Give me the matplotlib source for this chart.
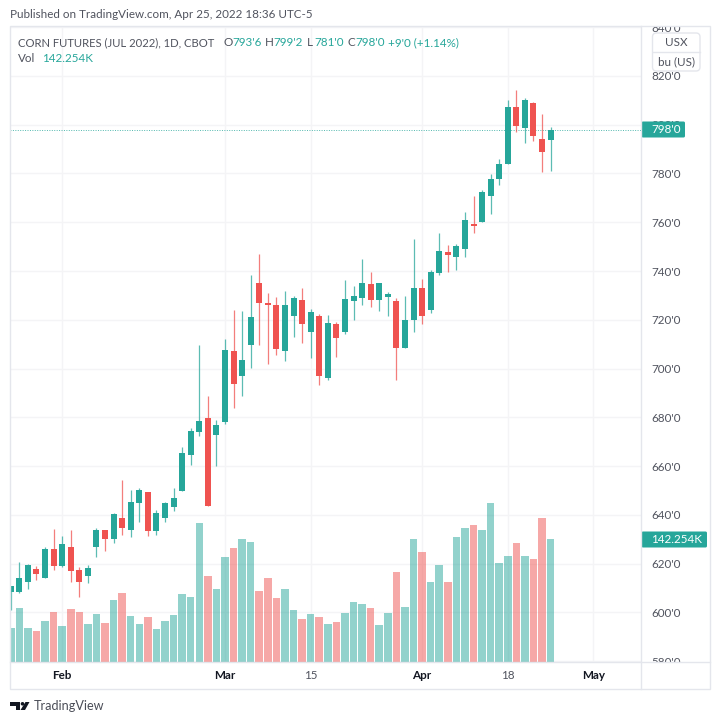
"""Corn futures daily candles with volume, styled like a TradingView snapshot."""
import matplotlib
matplotlib.use("Agg")
import matplotlib.pyplot as plt
import matplotlib.patches as mpatches
from matplotlib.transforms import Bbox, IdentityTransform, TransformedBbox

opens = [608.2, 608.2, 612.6, 617.7, 614.0, 626.0, 618.9, 627.0, 617.4, 614.8,
         626.9, 633.8, 630.3, 638.8, 634.0, 644.8, 649.4, 633.3, 638.9, 643.1,
         649.9, 664.7, 673.8, 679.8, 672.8, 678.3, 707.3, 696.8, 709.8, 734.9,
         726.7, 726.1, 707.2, 721.4, 728.1, 715.2, 721.7, 696.1, 718.1, 715.2,
         727.6, 728.9, 734.5, 728.1, 729.2, 727.6, 708.4, 719.8, 732.9, 723.9,
         739.2, 747.8, 745.6, 748.9, 759.2, 759.9, 770.9, 777.8, 783.8, 807.1,
         798.7, 808.7, 794.1, 793.75]
highs = [611.0, 620.7, 619.9, 619.2, 627.0, 634.2, 631.4, 633.8, 618.5, 619.6,
         634.5, 633.8, 640.9, 654.5, 650.4, 651.1, 649.6, 642.0, 645.2, 651.1,
         667.9, 675.7, 709.6, 688.6, 679.0, 712.0, 723.9, 723.6, 738.5, 746.9,
         731.1, 729.5, 731.7, 729.6, 732.9, 724.3, 722.5, 721.9, 718.9, 736.2,
         734.0, 744.9, 739.5, 734.9, 731.3, 729.1, 729.7, 753.0, 736.6, 740.3,
         755.6, 750.8, 751.1, 764.0, 770.8, 773.4, 779.7, 786.1, 810.1, 814.2,
         810.8, 809.5, 804.2, 799.25]
lows = [601.0, 608.1, 609.6, 613.3, 614.0, 617.4, 618.8, 612.3, 606.2, 611.9,
        622.9, 625.2, 628.4, 631.7, 631.1, 637.1, 631.4, 631.6, 637.0, 641.8,
        649.9, 660.6, 672.5, 643.7, 660.1, 677.3, 683.8, 688.7, 700.2, 709.6,
        701.7, 705.4, 703.2, 712.9, 710.3, 704.2, 693.2, 695.4, 704.6, 714.1,
        719.8, 726.2, 725.2, 723.6, 721.4, 695.5, 708.4, 715.0, 718.4, 722.9,
        738.4, 739.5, 740.4, 745.8, 755.6, 759.9, 763.4, 775.3, 783.8, 797.1,
        792.3, 793.4, 780.7, 781.0]
closes = [611.0, 614.1, 619.3, 615.8, 626.0, 619.1, 628.1, 617.1, 612.6, 618.4,
          634.0, 630.1, 640.4, 634.7, 645.2, 650.4, 633.6, 640.7, 644.9, 647.1,
          665.3, 674.6, 678.6, 643.7, 676.9, 707.7, 693.6, 703.5, 721.3, 726.9,
          726.1, 708.1, 726.2, 728.8, 718.2, 723.2, 696.8, 718.7, 712.4, 728.4,
          729.7, 734.9, 728.2, 734.9, 730.7, 708.4, 720.0, 732.9, 721.4, 739.5,
          748.1, 746.6, 750.4, 760.8, 758.5, 772.4, 777.9, 783.8, 807.1, 799.5,
          810.1, 795.3, 788.9, 798.0]
volumes = [39.5, 62.4, 38.8, 34.9, 46.9, 57.8, 41.5, 61.2, 57.8, 43.5,
           55.4, 44.2, 71.7, 79.8, 52.3, 43.5, 51.6, 38.0, 47.6, 54.3,
           78.7, 75.2, 160.8, 99.2, 84.5, 122.0, 132.1, 142.9, 139.4, 82.5,
           97.3, 73.7, 84.5, 59.7, 49.6, 55.1, 51.6, 43.5, 46.1, 56.9,
           69.7, 67.0, 62.4, 42.6, 56.9, 103.9, 63.6, 142.9, 127.5, 92.6,
           112.7, 92.6, 144.9, 155.7, 158.9, 153.0, 184.4, 114.7, 122.8, 137.6,
           122.8, 119.3, 167.0, 142.254]

time_ticks = [6, 25, 35, 48, 58, 68]
time_labels = ["Feb", "Mar", "15", "Apr", "18", "May"]
price_ticks = list(range(580, 841, 20))

UP = "#26a69a"
DOWN = "#ef5350"
GRID = "#f4f4f6"
BORDER = "#e4e6ec"
TEXT = "#50535e"
FS = 8.4
W, H = 720, 724

plt.rcParams["font.family"] = ["Lato", "DejaVu Sans"]


def fx(x):
    return x / W


def fy(y):
    return 1 - y / H


def round_box(x0, y0, x1, y1, radius, **kw):
    # rounded box given in picture pixels, y measured from the top
    return mpatches.FancyBboxPatch((x0, H - y1), x1 - x0, y1 - y0,
                                   boxstyle=f"round,pad=0,rounding_size={radius}",
                                   transform=IdentityTransform(), **kw)


fig = plt.figure(figsize=(W / 100, H / 100), dpi=100, facecolor="white")

ax = fig.add_axes([fx(10), fy(661.5), fx(631.3), 634.5 / H])
ax.set_xlim(-0.0875, 73.58)
ax.set_ylim(579.9, 840.05)
ax.grid(True, color=GRID, linewidth=1)
ax.set_axisbelow(True)
for s in ax.spines.values():
    s.set_visible(False)

# volume pane shares the same x positions, own scale
ax_v = ax.twinx()
ax_v.set_ylim(0, 737.3)
ax_v.patch.set_visible(False)
ax_v.yaxis.set_visible(False)
for s in ax_v.spines.values():
    s.set_visible(False)
for i, v in enumerate(volumes):
    ax_v.bar(i, v, width=0.88, color=UP if closes[i] >= opens[i] else DOWN,
             alpha=0.5, linewidth=0)

for i in range(len(opens)):
    color = UP if closes[i] >= opens[i] else DOWN
    ax.vlines(i, lows[i], highs[i], color=color, linewidth=0.9, alpha=0.75, zorder=3)
    ax.bar(i, abs(closes[i] - opens[i]), bottom=min(opens[i], closes[i]), width=0.7,
           color=color, linewidth=0, zorder=4)

ax.axhline(closes[-1], color=UP, linestyle=(0, (1, 1.5)), linewidth=0.7, alpha=0.8, zorder=2)

ax.set_xticks(time_ticks)
ax.set_xticklabels(time_labels)
ax.tick_params(axis="x", length=0, pad=6, labelsize=FS, labelcolor="#131722")
for t in ax.get_xticklabels():
    if t.get_text() in ("15", "18"):
        t.set_color(TEXT)
    else:
        t.set_fontweight("bold")

# twinx moves the ticks to the left, so set this side afterwards
ax.yaxis.tick_right()
ax.set_yticks(price_ticks)
ax.set_yticklabels([f"{p}'0" for p in price_ticks])
ax.tick_params(axis="y", length=0, pad=7.2, labelsize=FS, labelcolor=TEXT)
clip = TransformedBbox(Bbox([[fx(642), fy(661.5)], [fx(700), fy(27)]]), fig.transFigure)
for t in ax.get_yticklabels():
    t.set_clip_on(True)
    t.set_clip_box(clip)

# frame around the chart
fig.add_artist(mpatches.Rectangle((fx(10), fy(689)), fx(700), 663 / H, fill=False,
                                  edgecolor=BORDER, linewidth=1))
fig.add_artist(plt.Line2D([fx(641.3), fx(641.3)], [fy(689), fy(26)], color=BORDER, linewidth=1))
fig.add_artist(plt.Line2D([fx(10), fx(710)], [fy(661.7), fy(661.7)], color=BORDER, linewidth=1))

fig.text(fx(10), fy(15), "Published on TradingView.com, Apr 25, 2022 18:36 UTC-5",
         fontsize=FS, color=TEXT, va="center")

# legend rows, pieces placed left to right
legend_y = fy(42.5)
fig.text(fx(18), legend_y, "CORN FUTURES (JUL 2022), 1D, CBOT", fontsize=8.1, color=TEXT, va="center")
pieces = [(224, "O", TEXT), (232, "793'6", UP),
          (265, "H", TEXT), (273, "799'2", UP),
          (307, "L", TEXT), (314, "781'0", UP),
          (347, "C", TEXT), (355, "798'0", UP),
          (388, "+9'0 (+1.14%)", UP)]
for x, s, c in pieces:
    fig.text(fx(x), legend_y, s, fontsize=FS, color=c, va="center")
fig.text(fx(18), fy(59), "Vol", fontsize=FS, color=TEXT, va="center")
fig.text(fx(42), fy(59), "142.254K", fontsize=FS, color=UP, va="center")

# last value tags on the price scale
for x0, x1, yc, s in [(641.5, 685, 129.5, "798'0"), (641.5, 707, 539.5, "142.254K")]:
    fig.add_artist(round_box(x0, yc - 8, x1, yc + 8, 1.5, facecolor=UP, linewidth=0))
    fig.text(fx(x0 + 10), fy(yc), s, fontsize=FS, color="white", va="center")

# currency / unit box
fig.add_artist(round_box(652.5, 33, 700, 71, 4, facecolor="white", edgecolor=BORDER, linewidth=1))
fig.add_artist(plt.Line2D([fx(652.5), fx(700)], [fy(52), fy(52)], color=BORDER, linewidth=1))
fig.text(fx(676), fy(42.5), "USX", fontsize=FS, color=TEXT, ha="center", va="center")
fig.text(fx(676), fy(61.5), "bu (US)", fontsize=FS, color=TEXT, ha="center", va="center")

# logo and wordmark
logo = "#131722"
fig.add_artist(mpatches.Polygon([(fx(10), fy(702)), (fx(19.5), fy(702)), (fx(19.5), fy(710)),
                                 (fx(15.5), fy(710)), (fx(15.5), fy(705.5)), (fx(10), fy(705.5))],
                                facecolor=logo, linewidth=0))
fig.add_artist(mpatches.Ellipse((fx(22.5), fy(703.8)), 3.6 / W, 3.6 / H, facecolor=logo, linewidth=0))
fig.add_artist(mpatches.Polygon([(fx(25.5), fy(702)), (fx(29.5), fy(702)), (fx(25), fy(710)),
                                 (fx(20.5), fy(710))], facecolor=logo, linewidth=0))
fig.text(fx(34), fy(706.5), "TradingView", fontsize=9.1, color="#4a4d57", va="center")

fig.savefig("out.png", dpi=100)
